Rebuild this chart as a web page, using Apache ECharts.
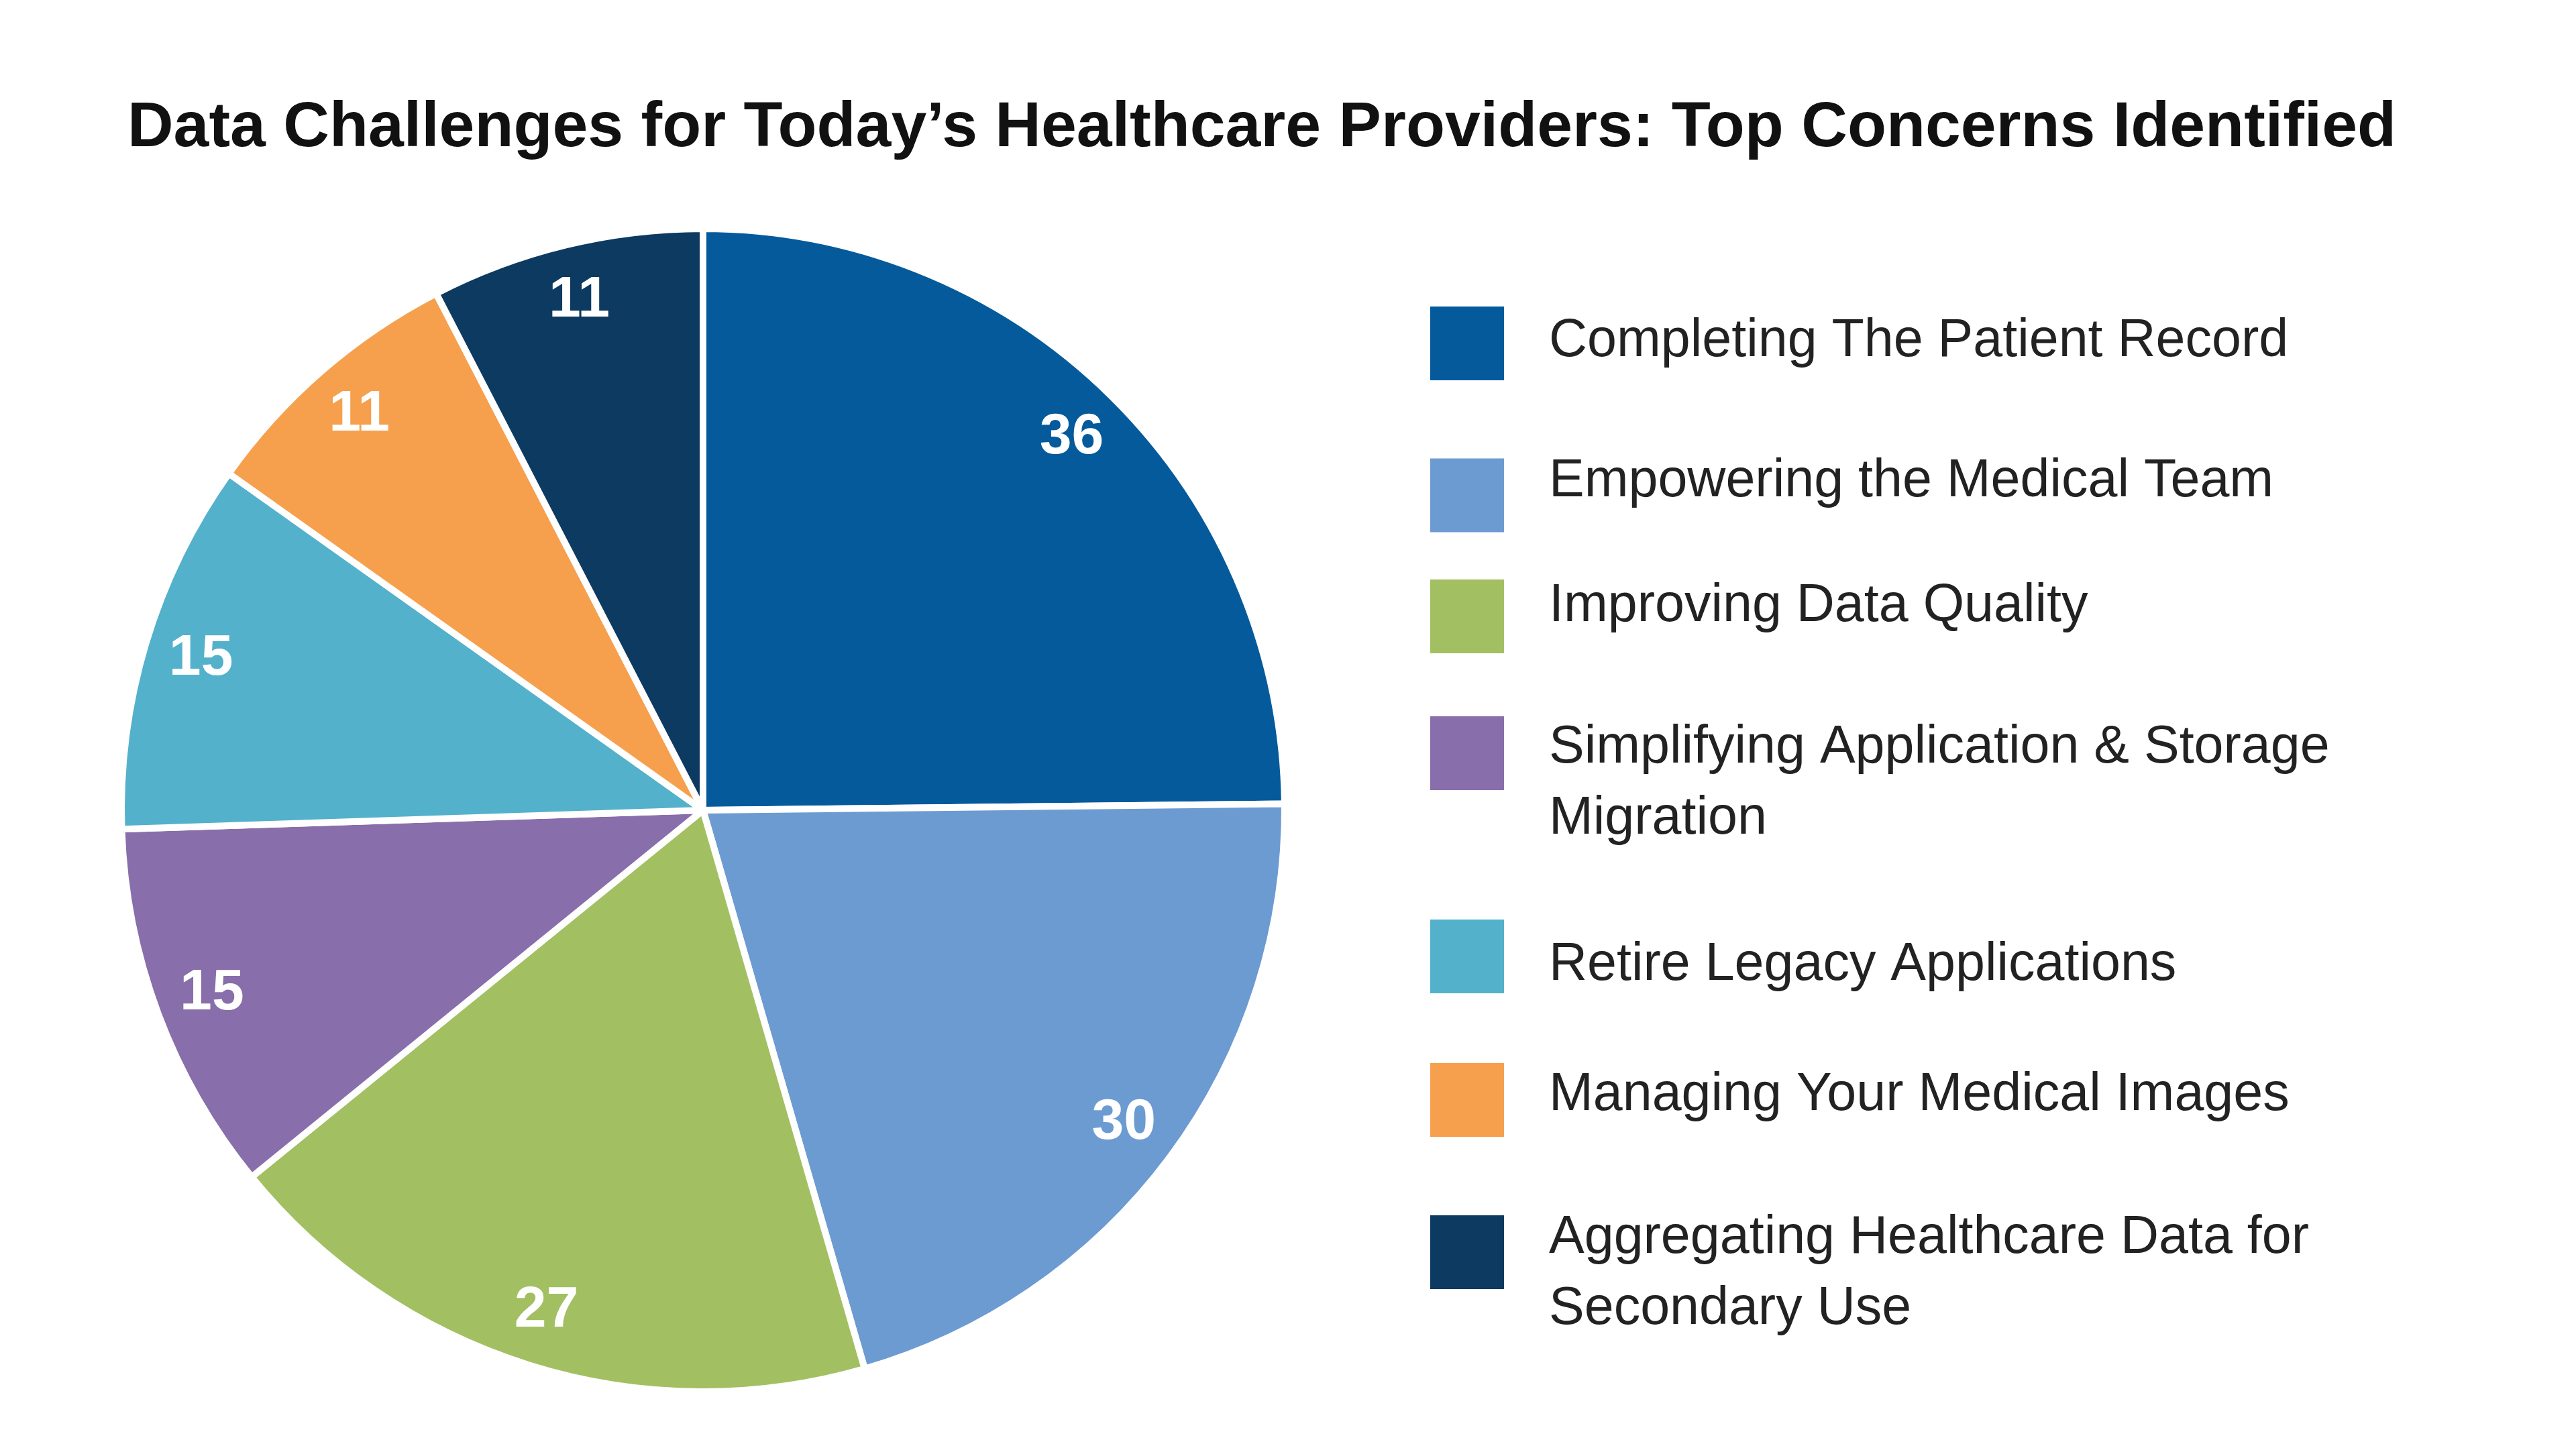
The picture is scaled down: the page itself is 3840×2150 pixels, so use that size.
<!DOCTYPE html>
<html>
<head>
<meta charset="utf-8">
<script src="https://cdn.jsdelivr.net/npm/echarts@6/dist/echarts.min.js"></script>
<style>
  html, body { margin: 0; padding: 0; background: #ffffff; }
  #chart { width: 3840px; height: 2150px; }
</style>
</head>
<body>
<div id="chart"></div>
<script>
// ---- data ----
const chartTitle = 'Data Challenges for Today\u2019s Healthcare Providers: Top Concerns Identified';
const categories = [
  'Completing The Patient Record',
  'Empowering the Medical Team',
  'Improving Data Quality',
  'Simplifying Application & Storage Migration',
  'Retire Legacy Applications',
  'Managing Your Medical Images',
  'Aggregating Healthcare Data for Secondary Use'
];
const legendLabels = [
  'Completing The Patient Record',
  'Empowering the Medical Team',
  'Improving Data Quality',
  'Simplifying Application & Storage\nMigration',
  'Retire Legacy Applications',
  'Managing Your Medical Images',
  'Aggregating Healthcare Data for\nSecondary Use'
];
const values = [36, 30, 27, 15, 15, 11, 11];
const colors = ['#045A9B', '#6C9BD2', '#A2C062', '#886EAA', '#53B1CB', '#F6A04E', '#0D3A60'];

// ---- layout ----
const CX = 1048, CY = 1208, R = 867;
const LEG_LEFT = 2130, ICON = 112, LH = 106, TEXT_GAP = 61, LEG_FONT = 79;
// anchor positions for each legend row (calibrated against the reference)
const legendAnchors = [455, 696, 874, 1111, 1379, 1587, 1842];
const textOffsets = [-3, -20, -15, -8, 13, -7, -21];

const legends = categories.map((name, i) => {
  const lines = legendLabels[i].split('\n');
  const n = lines.length;
  const d = textOffsets[i];
  let lead = 0, trail = 0;
  if (n > 1) {
    lead = (n - 1) * LH + 2 * d;
  } else if (d > 0) {
    lead = 2 * d;
  } else {
    trail = -2 * d;
  }
  let txt = lines.map(l => '{t|' + l + '}').join('\n');
  if (lead > 0) txt = '{p| }\n' + txt;
  if (trail > 0) txt = txt + '\n{q| }';
  const H = lead + n * LH + trail;
  const c = legendAnchors[i] + ICON / 2;
  const top = Math.min(legendAnchors[i], c - H / 2);
  return {
    orient: 'vertical',
    left: LEG_LEFT,
    top: top,
    padding: 0,
    itemWidth: ICON,
    itemHeight: ICON,
    icon: 'rect',
    selectedMode: false,
    formatter: () => txt,
    textStyle: {
      fontFamily: 'Liberation Sans',
      fontSize: LEG_FONT,
      color: '#222222',
      padding: [0, 0, 0, TEXT_GAP],
      rich: {
        t: { fontFamily: 'Liberation Sans', fontSize: LEG_FONT, color: '#222222', lineHeight: LH },
        p: { fontSize: 2, lineHeight: Math.max(lead, 1) },
        q: { fontSize: 2, lineHeight: Math.max(trail, 1) }
      }
    },
    data: [name]
  };
});

const pieData = categories.map((name, i) => ({
  name: name,
  value: values[i],
  itemStyle: { color: colors[i] }
}));

const chart = echarts.init(document.getElementById('chart'), null, { renderer: 'canvas' });
chart.setOption({
  backgroundColor: '#ffffff',
  animation: false,
  title: {
    text: chartTitle,
    left: 190,
    top: 144,
    padding: 0,
    textStyle: {
      fontFamily: 'Liberation Sans',
      fontWeight: 'bold',
      fontSize: 95,
      color: '#111111'
    }
  },
  legend: legends,
  series: [
    {
      type: 'pie',
      center: [CX, CY],
      radius: [0, R],
      startAngle: 90,
      clockwise: true,
      silent: true,
      emphasis: { disabled: true },
      itemStyle: { borderColor: '#ffffff', borderWidth: 10 },
      label: { show: false },
      labelLine: { show: false },
      data: pieData
    },
    {
      type: 'pie',
      center: [CX, CY],
      radius: [Math.round(R * 0.796), R],
      startAngle: 90,
      clockwise: true,
      silent: true,
      emphasis: { disabled: true },
      itemStyle: { color: 'rgba(0,0,0,0)', borderWidth: 0 },
      label: {
        show: true,
        position: 'inside',
        formatter: '{c}',
        fontFamily: 'Liberation Sans',
        fontWeight: 'bold',
        fontSize: 86,
        color: '#ffffff'
      },
      labelLine: { show: false },
      data: categories.map((name, i) => ({ name: name, value: values[i] }))
    }
  ]
});
</script>
</body>
</html>
